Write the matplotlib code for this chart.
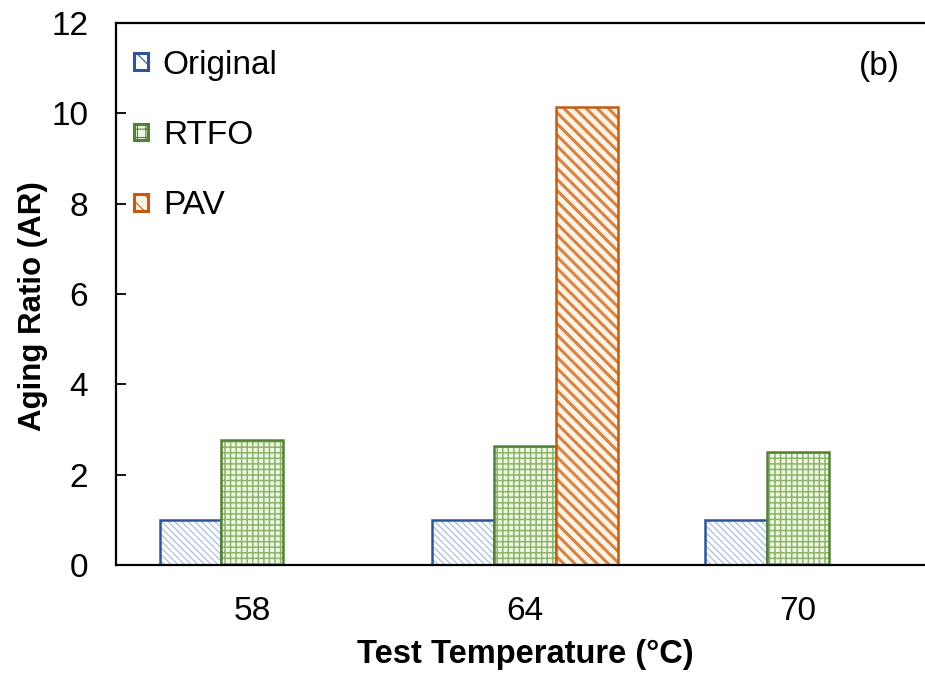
import matplotlib
matplotlib.use("Agg")
import matplotlib.pyplot as plt
import numpy as np

plt.rcParams['font.family'] = ['Liberation Sans', 'DejaVu Sans']

# data
temps = ['58', '64', '70']
original = [1.0, 1.0, 1.0]
rtfo = [2.76, 2.64, 2.51]
pav = [np.nan, 10.13, np.nan]
series_names = ['Original', 'RTFO', 'PAV']

# styles: (fill, hatch colour, edge colour, hatch, hatch lw)
styles = [
    ('white', '#b3c3de', '#2f5597', '\\\\\\\\\\', 1.0),
    ('#eef7e4', '#8db46a', '#548235', '+++', 1.1),
    ('#fdf3e4', '#d58447', '#c55a11', '\\\\\\', 2.2),
]

fig = plt.figure(figsize=(9.25, 6.74), dpi=100)
ax = fig.add_axes([0.1254, 0.1617, 0.885, 0.8042])

x = np.arange(len(temps))
w = 0.227
handles = []
for i, vals in enumerate([original, rtfo, pav]):
    fc, hc, ec, hatch, hlw = styles[i]
    plt.rcParams['hatch.linewidth'] = hlw
    pos = x + (i - 1) * w
    ax.bar(pos, vals, w, color=fc, edgecolor=hc, hatch=hatch, linewidth=0)
    ax.bar(pos, vals, w, facecolor='none', edgecolor=ec, linewidth=1.8)
    plt.rcParams['hatch.linewidth'] = 0.8
    h = plt.Rectangle((0, 0), 1, 1, facecolor=fc, edgecolor=ec, hatch=hatch[:2],
                      linewidth=2.2)
    handles.append(h)

ax.set_xlim(-0.5, 2.5)
ax.set_ylim(0, 12)
ax.set_yticks(range(0, 13, 2))
ax.set_xticks(x)
ax.set_xticklabels(temps)
ax.tick_params(axis='x', length=0, labelsize=24, pad=22)
ax.tick_params(axis='y', direction='in', length=7, width=1.3, labelsize=24, pad=20)
for s in ['left', 'bottom', 'top']:
    ax.spines[s].set_linewidth(1.6)
ax.spines['right'].set_visible(False)

ax.set_xlabel('Test Temperature (°C)', fontsize=23.5, fontweight='bold', labelpad=9)
ax.set_ylabel('Aging Ratio (AR)', fontsize=22.5, fontweight='bold')
ax.yaxis.set_label_coords(-0.083, 0.478)

ax.legend(handles, series_names, loc='upper left', frameon=False,
          fontsize=24, handlelength=0.4, handleheight=0.4,
          handletextpad=0.45, labelspacing=1.18,
          bbox_to_anchor=(-0.01, 1.0), borderaxespad=0.4)

ax.text(0.932, 0.919, '(b)', transform=ax.transAxes, fontsize=24,
        ha='center', va='center')

fig.savefig('out.png', dpi=100)
